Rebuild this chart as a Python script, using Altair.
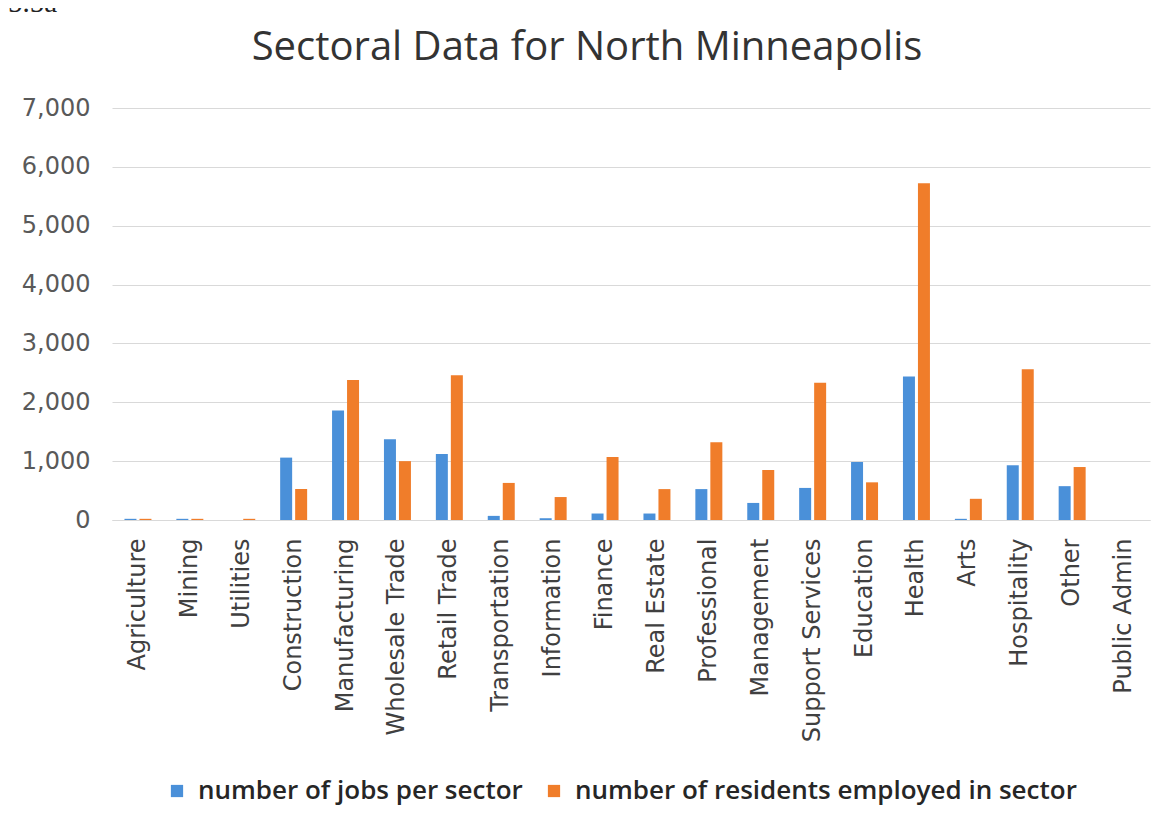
import altair as alt
import pandas as pd

sectors = ["Agriculture", "Mining", "Utilities", "Construction", "Manufacturing",
           "Wholesale Trade", "Retail Trade", "Transportation", "Information", "Finance",
           "Real Estate", "Professional", "Management", "Support Services", "Education",
           "Health", "Arts", "Hospitality", "Other", "Public Admin"]
jobs = [20, 20, 0, 1060, 1860, 1370, 1120, 70, 30, 110,
        110, 525, 290, 545, 985, 2440, 20, 930, 575, 0]
residents = [20, 20, 20, 525, 2380, 1000, 2460, 630, 390, 1070,
             525, 1320, 850, 2330, 640, 5720, 360, 2560, 900, 0]
series = ["number of jobs per sector", "number of residents employed in sector"]
colors = ["#4a90d9", "#f07d2a"]
title_text = ["Sectoral Data for North Minneapolis"]
figure_label = ["5.5a"]

rows = []
for s, j, r in zip(sectors, jobs, residents):
    rows.append({"sector": s, "series": series[0], "value": j})
    rows.append({"sector": s, "series": series[1], "value": r})
df = pd.DataFrame(rows)

font = "DejaVu Sans"

bars = alt.Chart(df).mark_bar().encode(
    x=alt.X("sector:N", sort=sectors,
            scale=alt.Scale(paddingInner=0.48, paddingOuter=0.24),
            axis=alt.Axis(title=None, labelAngle=-90, labelFontSize=24, labelColor="#404040",
                          labelFont=font, labelPadding=18, ticks=False, domain=True,
                          domainColor="#d9d9d9", labelAlign="right", labelBaseline="middle",
                          labelLimit=400)),
    xOffset=alt.XOffset("series:N", sort=series, scale=alt.Scale(paddingInner=0.2)),
    y=alt.Y("value:Q", scale=alt.Scale(domain=[0, 7000]),
            axis=alt.Axis(title=None, values=[0, 1000, 2000, 3000, 4000, 5000, 6000, 7000],
                          format=",d", labelFontSize=24, labelColor="#595959", labelFont=font,
                          ticks=False, domain=False, gridColor="#d9d9d9", labelPadding=22)),
    color=alt.Color("series:N", sort=series,
                    scale=alt.Scale(domain=series, range=colors),
                    legend=alt.Legend(title=None, orient="none", legendX=52, legendY=670,
                                      direction="horizontal",
                                      labelFontSize=26, labelFont="Open Sans", labelColor="#262626",
                                      labelFontWeight=600, symbolType="square", symbolSize=150,
                                      symbolStrokeWidth=0, columnPadding=18,
                                      labelLimit=700, labelOffset=8)),
)

title = alt.Chart(pd.DataFrame({"t": title_text})).mark_text(
    font="Open Sans", fontSize=40, align="center", baseline="alphabetic", color="#333333"
).encode(x=alt.value(475), y=alt.value(-48), text="t:N")

label = alt.Chart(pd.DataFrame({"t": figure_label})).mark_text(
    font="Liberation Serif", fontSize=29, align="left", baseline="alphabetic", color="#222"
).encode(x=alt.value(-104), y=alt.value(-96), text="t:N")

chart = alt.layer(bars, title, label).properties(
    width=1038, height=412,
    padding={"left": 104, "top": 100, "right": 12, "bottom": 300},
    autosize=alt.AutoSizeParams(type="none"),
).configure_view(stroke=None)

chart.save("out.html", embed_options={"renderer": "svg", "actions": False})
